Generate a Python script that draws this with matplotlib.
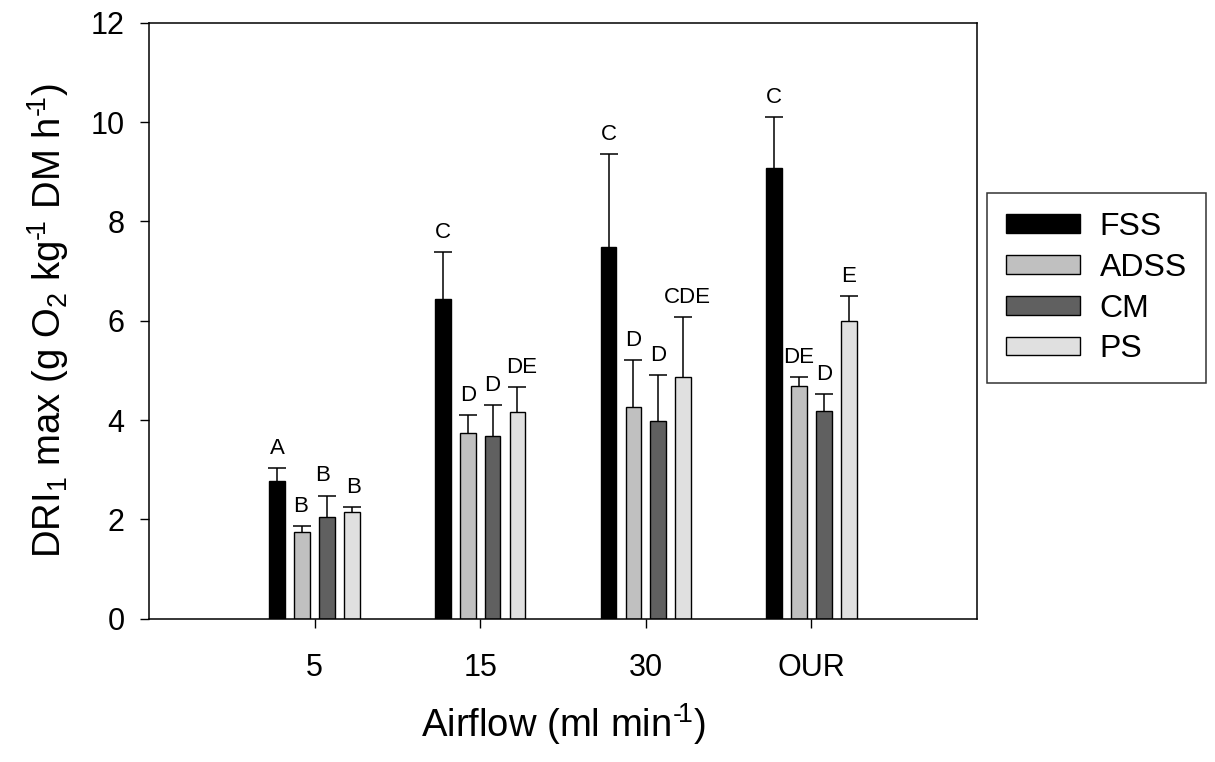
import matplotlib
matplotlib.use("Agg")
import matplotlib.pyplot as plt
import numpy as np

plt.rcParams['font.family'] = ['Liberation Sans', 'DejaVu Sans']
plt.rcParams['mathtext.fontset'] = 'custom'
plt.rcParams['mathtext.rm'] = 'Liberation Sans'
plt.rcParams['mathtext.it'] = 'Liberation Sans'
plt.rcParams['mathtext.default'] = 'regular'

categories = ["5", "15", "30", "OUR"]
series = ["FSS", "ADSS", "CM", "PS"]
fss = [2.78, 6.44, 7.49, 9.08]
adss = [1.75, 3.74, 4.26, 4.69]
cm = [2.05, 3.68, 3.98, 4.18]
ps = [2.14, 4.16, 4.87, 5.99]
fss_err = [0.26, 0.94, 1.87, 1.03]
adss_err = [0.12, 0.37, 0.94, 0.18]
cm_err = [0.43, 0.63, 0.92, 0.34]
ps_err = [0.11, 0.51, 1.20, 0.51]
fss_letters = ["A", "C", "C", "C"]
adss_letters = ["B", "D", "D", "DE"]
cm_letters = ["B", "D", "D", "D"]
ps_letters = ["B", "DE", "CDE", "E"]

values = [fss, adss, cm, ps]
errors = [fss_err, adss_err, cm_err, ps_err]
letters = [fss_letters, adss_letters, cm_letters, ps_letters]
colors = ["#000000", "#c0c0c0", "#606060", "#e0e0e0"]
# small horizontal nudges of letters (points)
letter_dx = [[0, 0, 0, 0], [-1, 0, 0, 0], [-3, 0, 0, 0], [1, 3, 3, 0]]

fig = plt.figure(figsize=(12.15, 7.62), dpi=100)
ax = fig.add_axes([149/1215, 1-618.7/762, (977-149)/1215, (618.7-22.7)/762])

x = np.arange(1, len(categories) + 1)
width = 0.095
step = 0.15
offsets = [-1.5, -0.5, 0.5, 1.5]

handles = []
for i in range(4):
    xi = x + offsets[i] * step
    b = ax.bar(xi, values[i], width, color=colors[i], edgecolor="black",
               linewidth=1.0, label=series[i], zorder=2)
    handles.append(b)
    eb = ax.errorbar(xi, values[i], yerr=[np.zeros(4), errors[i]], fmt="none",
                     ecolor="black", elinewidth=1.1, capsize=6.2, capthick=1.1,
                     zorder=1)
    eb[1][0].set_visible(False)
    for j in range(4):
        top = values[i][j] + errors[i][j]
        ax.annotate(letters[i][j], (xi[j], top), xytext=(letter_dx[i][j], 6.5),
                    textcoords="offset points", ha="center", va="bottom",
                    fontsize=16)

ax.set_xlim(0, 5)
ax.set_ylim(0, 12)
ax.set_xticks(x)
ax.set_xticklabels(categories)
ax.set_yticks(np.arange(0, 13, 2))
ax.tick_params(axis="x", length=6.5, width=1.0, labelsize=22, pad=18)
ax.tick_params(axis="y", length=6.5, width=1.0, labelsize=22, pad=11)
for s in ax.spines.values():
    s.set_linewidth(1.1)

ax.set_xlabel("Airflow (ml min$^{\u2010\\!1}$)", fontsize=27.5, labelpad=13)
ax.set_ylabel("DRI$_1$ max (g O$_2$ kg$^{\u2010\\!1}$ DM h$^{\u2010\\!1}$)",
              fontsize=27.5, labelpad=14)

leg = fig.legend(handles=handles, labels=series, loc="upper left",
                 bbox_to_anchor=(987/1215, 1-193/762), fontsize=23,
                 frameon=True, fancybox=False, shadow=False, edgecolor="black",
                 handlelength=2.3, handleheight=0.53, labelspacing=0.335,
                 handletextpad=0.62, borderpad=0.6, borderaxespad=0)
leg.get_frame().set_linewidth(1.1)

fig.savefig("out.png", dpi=100)
